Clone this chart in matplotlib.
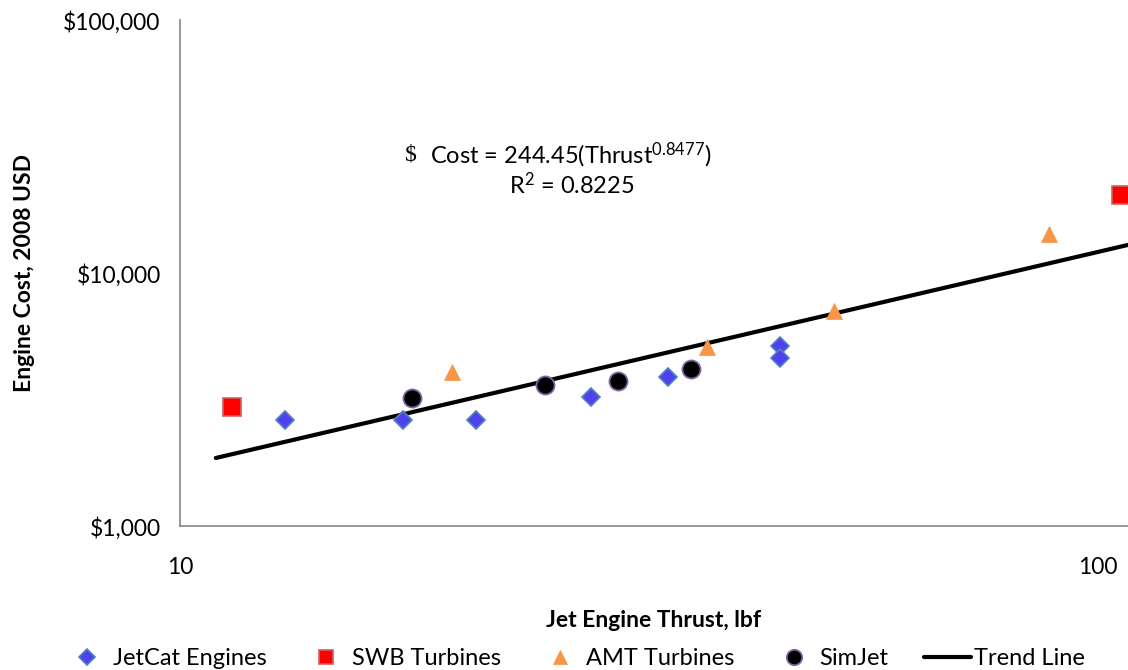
import matplotlib
matplotlib.use("Agg")
import matplotlib.pyplot as plt
from matplotlib.ticker import FixedLocator, NullLocator

plt.rcParams["font.family"] = ["Lato", "DejaVu Sans"]
plt.rcParams["mathtext.fontset"] = "custom"
plt.rcParams["mathtext.rm"] = "Lato"
plt.rcParams["mathtext.it"] = "Lato:italic"
plt.rcParams["mathtext.bf"] = "Lato:bold"

# thrust (lbf) and cost (2008 USD)
jetcat_thrust = [13.0, 17.5, 21.0, 28.0, 34.0, 45.0, 45.0]
jetcat_cost = [2620, 2620, 2620, 3240, 3880, 5140, 4610]

swb_thrust = [11.4, 105.8]
swb_cost = [2950, 20300]

amt_thrust = [19.8, 37.5, 51.6, 88.4]
amt_cost = [4060, 5100, 7080, 14260]

simjet_thrust = [17.9, 25.0, 30.0, 36.0]
simjet_cost = [3210, 3610, 3740, 4180]

# power-law fit shown on the chart
fit_coef = 244.45
fit_exp = 0.8477
trend_thrust = [10.94, 120.0]
trend_cost = [fit_coef * t ** fit_exp for t in trend_thrust]

x_ticks = [10, 100]
x_ticklabels = ["10", "100"]
y_ticks = [1000, 10000, 100000]
y_ticklabels = ["$1,000", "$10,000", "$100,000"]

fig = plt.figure(figsize=(11.28, 6.70), dpi=100)
ax = fig.add_axes([0.1596, 0.2149, 0.8404, 0.7551])

ax.set_xscale("log")
ax.set_yscale("log")
ax.set_xlim(10, 107.8)
ax.set_ylim(1000, 100000)

ax.plot(jetcat_thrust, jetcat_cost, ls="none", marker="D", ms=9,
        mfc="#5040F0", mec="#4F81BD", mew=1.2, label="JetCat Engines", zorder=3)
ax.plot(swb_thrust, swb_cost, ls="none", marker="s", ms=12.5,
        mfc="#FF0000", mec="#D06060", mew=1.2, label="SWB Turbines", zorder=3,
        clip_on=False)
ax.plot(amt_thrust, amt_cost, ls="none", marker="^", ms=11.5,
        mfc="#F79646", mec="#F79646", mew=0.5, label="AMT Turbines", zorder=3)
ax.plot(simjet_thrust, simjet_cost, ls="none", marker="o", ms=13,
        mfc="black", mec="#8064A2", mew=1.3, label="SimJet", zorder=3)
ax.plot(trend_thrust, trend_cost, color="black", lw=3, label="Trend Line",
        solid_capstyle="round", zorder=2)

ax.xaxis.set_major_locator(FixedLocator(x_ticks))
ax.xaxis.set_minor_locator(NullLocator())
ax.set_xticklabels(x_ticklabels)
ax.yaxis.set_major_locator(FixedLocator(y_ticks))
ax.yaxis.set_minor_locator(NullLocator())
ax.set_yticklabels(y_ticklabels)
ax.tick_params(axis="both", length=0, labelsize=16.5, colors="black")
ax.tick_params(axis="x", pad=22)
ax.tick_params(axis="y", pad=14)

for side in ["top", "right"]:
    ax.spines[side].set_visible(False)
for side in ["left", "bottom"]:
    ax.spines[side].set_color("#868686")
    ax.spines[side].set_linewidth(1.2)

ax.set_xlabel("Jet Engine Thrust, lbf", fontsize=16.5, fontweight="bold", labelpad=23)
ax.set_ylabel("Engine Cost, 2008 USD", fontsize=16.5, fontweight="bold", labelpad=20)

# fit equation
fig.text(411 / 1128, 1 - 155 / 670, "$", family="Liberation Serif",
         ha="center", va="center", fontsize=17)
fig.text(430 / 1128, 1 - 155 / 670, r"Cost = 244.45(Thrust$^{0.8477}$)",
         ha="left", va="center", fontsize=17)
fig.text(572 / 1128, 1 - 185 / 670, r"R$^2$ = 0.8225",
         ha="center", va="center", fontsize=17)

fig.legend(loc="center", bbox_to_anchor=(0.509, 0.017), ncol=5, frameon=False,
           fontsize=17, handlelength=2.0, handletextpad=0.1, columnspacing=1.5,
           markerscale=0.85)

fig.savefig("out.png", dpi=100)
